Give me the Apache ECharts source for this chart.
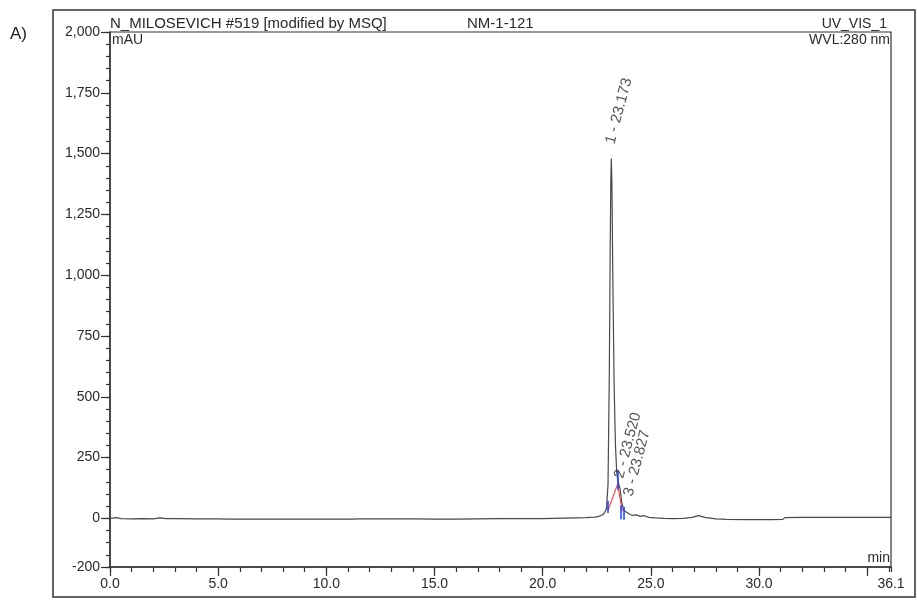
<!DOCTYPE html>
<html>
<head>
<meta charset="utf-8">
<script src="https://cdn.jsdelivr.net/npm/echarts@6/dist/echarts.min.js"></script>
<style>
  html, body { margin: 0; padding: 0; background: #fff; }
  #chart { width: 917px; height: 602px; }
</style>
</head>
<body>
<div id="chart"></div>
<script>
// UV_VIS_1 chromatogram, WVL 280 nm: [retention time (min), absorbance (mAU)]
const trace = [
  [0.0, 0], [0.3, 3], [0.5, -1], [1.0, -2], [1.5, -1], [2.0, -2], [2.3, 2], [2.6, -1],
  [3.0, -1], [4.0, -2], [5.0, -2], [5.5, -3], [7.0, -3], [9.0, -3], [11.2, -3],
  [11.5, -2], [12.5, -2], [14.0, -2], [15.0, -3], [16.0, -3], [17.0, -2], [18.0, -1],
  [19.0, -1], [20.0, -1], [21.0, 1], [21.5, 2], [22.0, 3], [22.4, 5], [22.6, 8],
  [22.75, 14], [22.85, 22], [22.95, 40], [23.02, 140], [23.08, 600], [23.12, 1100],
  [23.15, 1400], [23.173, 1480], [23.2, 1380], [23.24, 1000], [23.3, 560],
  [23.36, 310], [23.42, 190], [23.47, 155], [23.52, 162], [23.58, 120], [23.65, 68],
  [23.72, 42], [23.78, 30], [23.827, 36], [23.9, 24], [24.0, 18], [24.15, 12],
  [24.35, 14], [24.5, 8], [24.7, 11], [24.9, 4], [25.2, 2], [25.6, 0], [26.0, -1],
  [26.5, 0], [26.9, 4], [27.2, 11], [27.5, 4], [28.0, -2], [28.5, -4], [29.5, -5],
  [30.5, -5], [31.1, -4], [31.2, 3], [32.0, 4], [33.0, 4], [34.0, 4], [35.0, 4], [36.1, 4]
];

// Integrated peaks: number and retention time, with the apex height
const peakTimes = [23.173, 23.520, 23.827];
const peakHeights = [1480, 162, 36];

// Baseline drawn under the rider peaks
const riderBaseline = [[23.02, 33], [23.46, 140], [23.68, 30]];

// Peak delimiters (time, lower end, upper end)
const delimiterTimes = [23.02, 23.46, 23.6, 23.76];
const delimiterLow = [22, 118, -4, -6];
const delimiterHigh = [72, 196, 54, 48];

// Axis ticks
const yLabelValues = [-200, 0, 250, 500, 750, 1000, 1250, 1500, 1750, 2000];
const xLabelValues = [0, 5, 10, 15, 20, 25, 30, 36.1];
const xMajorTicks = [0, 5, 10, 15, 20, 25, 30, 35];

const textFont = 'Liberation Sans';
const ink = '#2a2a2a';

function thousands(v) {
  const s = Math.abs(v).toString().replace(/\B(?=(\d{3})+(?!\d))/g, ',');
  return (v < 0 ? '-' : '') + s;
}

const chart = echarts.init(document.getElementById('chart'), null, { renderer: 'canvas' });

const peakPoints = peakTimes.map((t, i) => ({ value: [t, peakHeights[i]], peakNo: i + 1 }));
// label shifts along / across the rotated text
const peakOffsets = [[14, -5], [1, 0], [14, -1]];

const delimiters = delimiterTimes.map((t, i) => ({
  coords: [[t, delimiterLow[i]], [t, delimiterHigh[i]]]
}));

const axisBase = {
  type: 'value',
  min: 0,
  max: 36.1,
  splitLine: { show: false }
};

chart.setOption({
  animation: false,
  backgroundColor: '#fff',
  grid: {
    left: 110, right: 26, top: 32, bottom: 35,
    show: true, borderColor: '#333', borderWidth: 1.2
  },
  xAxis: [
    Object.assign({}, axisBase, {
      interval: 1,
      axisLine: { show: true, onZero: false, lineStyle: { color: '#333', width: 1.5 } },
      axisTick: { show: true, length: 5, lineStyle: { color: '#333', width: 1.2 } },
      axisLabel: {
        show: true, margin: 10, customValues: xLabelValues,
        formatter: v => v.toFixed(1),
        fontFamily: textFont, fontSize: 14, color: ink
      }
    }),
    Object.assign({}, axisBase, {
      position: 'bottom', offset: 0, interval: 5,
      axisLine: { show: false, onZero: false },
      axisTick: { show: true, length: 9, customValues: xMajorTicks, lineStyle: { color: '#333', width: 1.2 } },
      axisLabel: { show: false }
    })
  ],
  yAxis: [
    {
      type: 'value', min: -200, max: 2000, interval: 50,
      splitLine: { show: false },
      axisLine: { show: true, onZero: false, lineStyle: { color: '#333', width: 1.5 } },
      axisTick: { show: true, length: 4, lineStyle: { color: '#333', width: 1.2 } },
      axisLabel: {
        show: true, margin: 10, customValues: yLabelValues,
        formatter: v => thousands(v),
        fontFamily: textFont, fontSize: 14, color: ink
      }
    },
    {
      type: 'value', min: -200, max: 2000, interval: 50,
      position: 'left', offset: 0,
      splitLine: { show: false },
      axisLine: { show: false, onZero: false },
      axisTick: { show: true, length: 9, customValues: yLabelValues, lineStyle: { color: '#333', width: 1.2 } },
      axisLabel: { show: false }
    }
  ],
  series: [
    {
      type: 'line',
      data: trace,
      xAxisIndex: 0, yAxisIndex: 0,
      showSymbol: false,
      lineStyle: { color: '#4a4a4a', width: 1.2 },
      z: 3
    },
    {
      type: 'line',
      data: riderBaseline,
      showSymbol: false,
      lineStyle: { color: '#ff3b3b', width: 1.1 },
      z: 4
    },
    {
      type: 'lines',
      coordinateSystem: 'cartesian2d',
      data: delimiters,
      lineStyle: { color: '#1a3cff', width: 1.5, opacity: 1 },
      z: 5
    },
    {
      type: 'scatter',
      data: peakPoints,
      symbolSize: 0,
      z: 6,
      label: {
        show: true,
        position: 'top',
        distance: 0,
        rotate: 75,
        align: 'left',
        verticalAlign: 'middle',
        fontFamily: textFont,
        fontSize: 15,
        color: ink,
        formatter: p => p.data.peakNo + ' - ' + p.data.value[0].toFixed(3)
      },
      labelLayout: p => ({ dx: peakOffsets[p.dataIndex][0], dy: peakOffsets[p.dataIndex][1] })
    }
  ],
  graphic: [
    {
      type: 'rect', silent: true,
      shape: { x: 53, y: 10, width: 862, height: 587 },
      style: { fill: 'none', stroke: '#333', lineWidth: 1.5 }
    },
    {
      type: 'text', left: 10, top: 26,
      style: { text: 'A)', font: '17px "Liberation Sans"', fill: '#222' }
    },
    {
      type: 'text', x: 110, y: 31,
      style: { text: 'N_MILOSEVICH #519 [modified by MSQ]', font: '15px "Liberation Sans"', fill: ink, textVerticalAlign: 'bottom' }
    },
    {
      type: 'text', x: 467, y: 31,
      style: { text: 'NM-1-121', font: '15px "Liberation Sans"', fill: ink, textVerticalAlign: 'bottom' }
    },
    {
      type: 'text', x: 887, y: 31,
      style: { text: 'UV_VIS_1', font: '14px "Liberation Sans"', fill: ink, textAlign: 'right', textVerticalAlign: 'bottom' }
    },
    {
      type: 'text', x: 112, y: 33,
      style: { text: 'mAU', font: '14px "Liberation Sans"', fill: ink }
    },
    {
      type: 'text', x: 890, y: 33,
      style: { text: 'WVL:280 nm', font: '14px "Liberation Sans"', fill: ink, textAlign: 'right' }
    },
    {
      type: 'text', x: 890, y: 565,
      style: { text: 'min', font: '14px "Liberation Sans"', fill: ink, textAlign: 'right', textVerticalAlign: 'bottom' }
    }
  ]
});
</script>
</body>
</html>
